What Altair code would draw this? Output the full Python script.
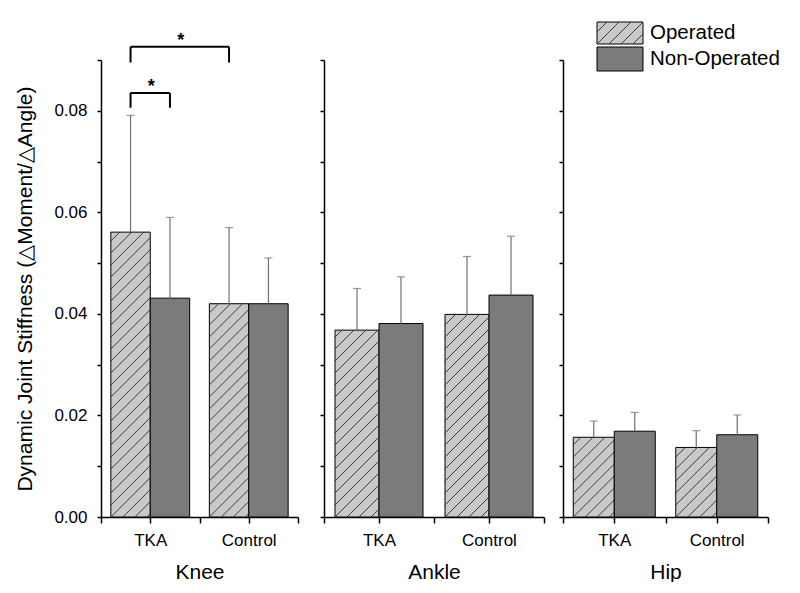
import altair as alt
import pandas as pd

# ---------------- data ----------------
joints = ["Knee", "Ankle", "Hip"]
groups = ["TKA", "Control"]
series = ["Operated", "Non-Operated"]

# order inside each joint: TKA-Operated, TKA-Non-Operated, Control-Operated, Control-Non-Operated
knee_mean = [0.0561, 0.0431, 0.0420, 0.0420]
knee_sd = [0.0230, 0.0159, 0.0150, 0.0090]
ankle_mean = [0.0368, 0.0381, 0.0399, 0.0437]
ankle_sd = [0.0082, 0.0092, 0.0114, 0.0116]
hip_mean = [0.0157, 0.0169, 0.0137, 0.0162]
hip_sd = [0.0032, 0.0037, 0.0033, 0.0039]

# significance brackets in the Knee panel
sig_from = [("TKA", "Operated"), ("TKA", "Operated")]
sig_to = [("TKA", "Non-Operated"), ("Control", "Operated")]
sig_low = [0.0806, 0.0895]
sig_high = [0.0835, 0.0926]
sig_text = ["*", "*"]

y_ticks = [0.00, 0.01, 0.02, 0.03, 0.04, 0.05, 0.06, 0.07, 0.08, 0.09]
y_title = "Dynamic Joint Stiffness (\u25b3Moment/\u25b3Angle)"

# ---------------- layout / style ----------------
PLOT_H = 457
Y_MAX = 0.09
PANEL_W = {"Knee": 197, "Ankle": 220, "Hip": 205}
BAR_PAD = 0.1
BAR_W = 0.4
HATCH_STEP = 12
FONT = "Liberation Sans"
COL_OP = "#c9c9c9"
COL_NON = "#7b7b7b"
ERR_COL = "#707070"

KY = PLOT_H / Y_MAX


def bar_frame(joint, means, sds):
    rows = []
    for k, (m, s) in enumerate(zip(means, sds)):
        gi, si = divmod(k, 2)
        x0 = gi + BAR_PAD + si * BAR_W
        rows.append(dict(joint=joint, group=groups[gi], series=series[si],
                         x0=x0, x1=x0 + BAR_W, xc=x0 + BAR_W / 2,
                         mean=m, top=m + s, base=0.0))
    return pd.DataFrame(rows)


def hatch_px(left, bottom, w, h, step=HATCH_STEP):
    segs = []
    k = int(-h // step)
    c = k * step
    while c < w:
        if c > -h:
            xs = max(0.0, c)
            xe = min(w, h + c)
            if xe > xs:
                segs.append((left + xs, bottom + xs - c, left + xe, bottom + xe - c))
        c += step
    return segs


def x_enc(field, joint):
    lab = f"datum.value == 0.5 ? '{groups[0]}' : (datum.value == 1.5 ? '{groups[1]}' : '')"
    return alt.X(field, type="quantitative",
                 scale=alt.Scale(domain=[0, 2], nice=False, zero=False),
                 axis=alt.Axis(values=[0, 0.5, 1, 1.5, 2], labelExpr=lab, title=joint,
                               tickSize=6, labelPadding=9, titlePadding=13,
                               labelFlush=False, labelOverlap=False, grid=False))


def y_enc(field, joint):
    if joint == "Knee":
        ax = alt.Axis(values=y_ticks,
                      labelExpr="round(datum.value*100) % 2 == 0 ? format(datum.value, '.2f') : ''",
                      title=y_title, tickSize=4, labelPadding=10, titlePadding=18,
                      labelFlush=False, labelOverlap=False, grid=False)
    else:
        ax = alt.Axis(values=y_ticks, labels=False, title="", tickSize=4, grid=False)
    return alt.Y(field, type="quantitative",
                 scale=alt.Scale(domain=[0, Y_MAX], nice=False, zero=True), axis=ax)


def panel(joint, means, sds):
    W = PANEL_W[joint]
    kx = W / 2.0
    df = bar_frame(joint, means, sds)

    # hatch segments for Operated bars
    hrows = []
    for _, r in df[df.series == series[0]].iterrows():
        for (a, b, c, d) in hatch_px(r.x0 * kx, 0.0, BAR_W * kx, r["mean"] * KY):
            hrows.append(dict(hx0=a / kx, hy0=b / KY, hx1=c / kx, hy1=d / KY))
    hdf = pd.DataFrame(hrows)

    bars = alt.Chart(df).mark_rect(stroke="black", strokeWidth=1).encode(
        x=x_enc("x0", joint), x2="x1",
        y=y_enc("mean", joint), y2="base",
        fill=alt.Fill("series:N", scale=alt.Scale(domain=series, range=[COL_OP, COL_NON]), legend=None),
    )
    hatch = alt.Chart(hdf).mark_rule(color="#2a2a2a", strokeWidth=0.9).encode(
        x=x_enc("hx0", joint), x2="hx1", y=y_enc("hy0", joint), y2="hy1")
    err = alt.Chart(df).mark_rule(color=ERR_COL, strokeWidth=1.2).encode(
        x=x_enc("xc", joint), y=y_enc("mean", joint), y2="top")
    caps = alt.Chart(df).mark_tick(orient="horizontal", size=8, thickness=1.2, color=ERR_COL).encode(
        x=x_enc("xc", joint), y=y_enc("top", joint))
    layers = [bars, hatch, err, caps]

    if joint == "Knee":
        centers = {(r.group, r.series): r.xc for _, r in df.iterrows()}
        seg, lab = [], []
        for f, t, lo, hi, s in zip(sig_from, sig_to, sig_low, sig_high, sig_text):
            xa, xb = centers[f], centers[t]
            seg += [dict(sx0=xa, sx1=xa, sy0=lo, sy1=hi),
                    dict(sx0=xa, sx1=xb, sy0=hi, sy1=hi),
                    dict(sx0=xb, sx1=xb, sy0=lo, sy1=hi)]
            lab.append(dict(tx=(xa + xb) / 2, ty=hi, t=s))
        layers.append(alt.Chart(pd.DataFrame(seg)).mark_rule(color="black", strokeWidth=2).encode(
            x=x_enc("sx0", joint), x2="sx1", y=y_enc("sy0", joint), y2="sy1"))
        layers.append(alt.Chart(pd.DataFrame(lab)).mark_text(
            font=FONT, fontSize=18, fontWeight="bold", baseline="alphabetic", dy=-1, dx=1, color="black").encode(
            x=x_enc("tx", joint), y=y_enc("ty", joint), text="t:N"))

    if joint == "Hip":
        # legend drawn inside the Hip panel (pixel layout converted to data units)
        box_l, box_w, box_h = 34, 46, 22
        tops = [-38, -13]
        lrows, lh, lt = [], [], []
        for i, s in enumerate(series):
            up_top = PLOT_H - tops[i]
            up_bot = up_top - box_h - (2 if i == 1 else 0)
            lrows.append(dict(series=s, lx0=box_l / kx, lx1=(box_l + box_w) / kx,
                              ly0=up_bot / KY, ly1=up_top / KY))
            lt.append(dict(series=s, tx=(box_l + box_w + 7) / kx, ty=(up_top + up_bot) / 2 / KY))
            if i == 0:
                for (a, b, c, d) in hatch_px(box_l, up_bot, box_w, up_top - up_bot):
                    lh.append(dict(hx0=a / kx, hy0=b / KY, hx1=c / kx, hy1=d / KY))
        layers.append(alt.Chart(pd.DataFrame(lrows)).mark_rect(stroke="black", strokeWidth=1).encode(
            x=x_enc("lx0", joint), x2="lx1", y=y_enc("ly0", joint), y2="ly1",
            fill=alt.Fill("series:N", scale=alt.Scale(domain=series, range=[COL_OP, COL_NON]), legend=None)))
        layers.append(alt.Chart(pd.DataFrame(lh)).mark_rule(color="#2a2a2a", strokeWidth=0.9).encode(
            x=x_enc("hx0", joint), x2="hx1", y=y_enc("hy0", joint), y2="hy1"))
        layers.append(alt.Chart(pd.DataFrame(lt)).mark_text(
            font=FONT, fontSize=20.5, align="left", baseline="middle", color="black").encode(
            x=x_enc("tx", joint), y=y_enc("ty", joint), text="series:N"))
    else:
        # invisible extender so every panel has the same top extent
        ext = pd.DataFrame([dict(ex0=0.0, ex1=0.05, ey=(PLOT_H + 39) / KY)])
        layers.append(alt.Chart(ext).mark_rule(strokeOpacity=0, color="white").encode(
            x=x_enc("ex0", joint), x2="ex1", y=y_enc("ey", joint)))

    return alt.layer(*layers).properties(width=W, height=PLOT_H)


knee = panel("Knee", knee_mean, knee_sd)
ankle = panel("Ankle", ankle_mean, ankle_sd)
hip = panel("Hip", hip_mean, hip_sd)

chart = alt.hconcat(knee, alt.hconcat(ankle, hip, spacing=13), spacing=20).properties(
    padding={"left": 6, "top": 12, "right": 0, "bottom": 0}
).configure_axis(
    domainColor="black", tickColor="black", labelColor="black", titleColor="black",
    labelFont=FONT, titleFont=FONT, labelFontSize=17, titleFontSize=21,
    titleFontWeight="normal", domainWidth=1.5, tickWidth=1.5,
).configure_view(strokeWidth=0)

chart.save("out.html", embed_options={"renderer": "svg", "actions": False})
